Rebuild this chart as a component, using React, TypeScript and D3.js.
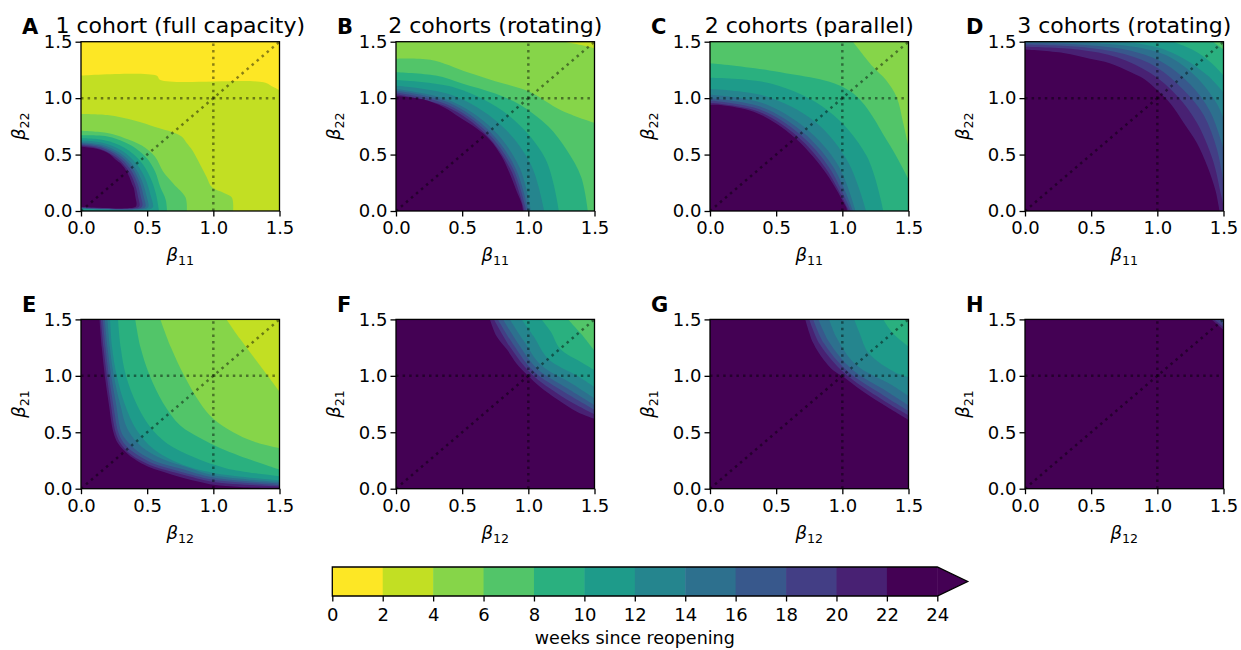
import { useEffect, useRef } from "react";
import * as d3 from "d3";

type Pt = [number, number];
type Level = [number, Pt[]];

// axis ticks and colour levels
const axisTicks = [0, 0.5, 1.0, 1.5];
const weekTicks = [0, 2, 4, 6, 8, 10, 12, 14, 16, 18, 20, 22, 24];

const panelLetters = ["A", "B", "C", "D", "E", "F", "G", "H"];
const panelTitles = [
  "1 cohort (full capacity)",
  "2 cohorts (rotating)",
  "2 cohorts (parallel)",
  "3 cohorts (rotating)",
  "", "", "", "",
];
const xSubs = ["11", "11", "11", "11", "12", "12", "12", "12"];
const ySubs = ["22", "22", "22", "22", "21", "21", "21", "21"];
// band (lower bound, weeks) in the far corner of each panel
const cornerWeeks = [0, 2, 4, 6, 2, 6, 8, 16];

// level boundaries: [weeks, boundary points (beta_x, beta_y)]
const contoursA: Level[] = [
  [2, [[0, 1.2], [0.57, 1.2], [0.6, 1.16], [1.38, 1.14], [1.45, 1.1], [1.5, 1.07]]],
  [4, [[0, 0.86], [0.2, 0.85], [0.41, 0.8], [0.56, 0.745], [0.66, 0.71], [0.76, 0.66], [0.8, 0.6], [0.84, 0.54], [0.91, 0.39], [0.95, 0.3], [0.99, 0.21], [1.08, 0.16], [1.14, 0.12], [1.15, 0]]],
  [6, [[0, 0.71], [0.2, 0.69], [0.33, 0.645], [0.46, 0.58], [0.56, 0.48], [0.62, 0.35], [0.7, 0.24], [0.79, 0.12], [0.8, 0]]],
  [8, [[0, 0.67], [0.2, 0.66], [0.33, 0.61], [0.42, 0.55], [0.5, 0.465], [0.56, 0.35], [0.6, 0.21], [0.64, 0.1], [0.65, 0]]],
  [10, [[0, 0.645], [0.169, 0.63], [0.325, 0.563], [0.446, 0.446], [0.522, 0.302], [0.566, 0.152], [0.589, 0]]],
  [12, [[0, 0.625], [0.162, 0.605], [0.309, 0.534], [0.419, 0.419], [0.488, 0.282], [0.525, 0.141], [0.544, 0.035], [0.52, 0.016], [0, 0.016]]],
  [14, [[0, 0.61], [0.157, 0.587], [0.296, 0.513], [0.399, 0.399], [0.461, 0.266], [0.495, 0.133], [0.51, 0.04], [0.49, 0.02], [0, 0.02]]],
  [16, [[0, 0.6], [0.154, 0.574], [0.288, 0.498], [0.386, 0.386], [0.443, 0.256], [0.474, 0.127], [0.488, 0.045], [0.47, 0.024], [0, 0.024]]],
  [18, [[0, 0.59], [0.151, 0.562], [0.279, 0.483], [0.372, 0.372], [0.426, 0.246], [0.453, 0.121], [0.465, 0.05], [0.45, 0.027], [0, 0.027]]],
  [20, [[0, 0.58], [0.147, 0.55], [0.271, 0.469], [0.358, 0.358], [0.408, 0.236], [0.433, 0.116], [0.443, 0.05], [0.43, 0.03], [0, 0.03]]],
  [22, [[0, 0.57], [0.1, 0.555], [0.2, 0.515], [0.263, 0.455], [0.3, 0.42], [0.35, 0.34], [0.391, 0.226], [0.4, 0.2], [0.413, 0.11], [0.42, 0.06], [0.41, 0.035], [0, 0.035]]],
];

const contoursB: Level[] = [
  [4, [[1.27, 1.5], [1.4, 1.47], [1.5, 1.44]]],
  [6, [[0, 1.35], [0.26, 1.34], [0.54, 1.23], [0.75, 1.15], [1.0, 1.06], [1.25, 0.89], [1.5, 0.78]]],
  [8, [[0, 1.23], [0.3, 1.2], [0.5, 1.13], [0.75, 1.04], [0.94, 0.94], [1.15, 0.75], [1.29, 0.54], [1.4, 0.3], [1.45, 0]]],
  [10, [[0, 1.16], [0.452, 1.09], [0.849, 0.849], [1.127, 0.467], [1.23, 0]]],
  [12, [[0, 1.11], [0.425, 1.026], [0.778, 0.778], [1.016, 0.421], [1.12, 0]]],
  [14, [[0, 1.08], [0.406, 0.979], [0.728, 0.728], [0.933, 0.387], [1.02, 0]]],
  [16, [[0, 1.065], [0.398, 0.961], [0.707, 0.707], [0.905, 0.375], [1.0, 0]]],
  [18, [[0, 1.05], [0.391, 0.942], [0.693, 0.693], [0.887, 0.367], [0.985, 0]]],
  [20, [[0, 1.035], [0.383, 0.924], [0.679, 0.679], [0.869, 0.36], [0.97, 0]]],
  [22, [[0, 1.02], [0.2, 0.99], [0.36, 0.92], [0.48, 0.83], [0.61, 0.73], [0.71, 0.63], [0.8, 0.48], [0.86, 0.33], [0.91, 0.18], [0.95, 0.065], [0.96, 0]]],
];

const contoursC: Level[] = [
  [6, [[1.08, 1.5], [1.23, 1.28], [1.33, 1.16], [1.41, 1.01], [1.46, 0.78], [1.5, 0.57]]],
  [8, [[0, 1.31], [0.5, 1.235], [1.06, 1.06], [1.35, 0.6], [1.5, 0.28]]],
  [10, [[0, 1.18], [0.467, 1.127], [0.891, 0.891], [1.183, 0.49], [1.31, 0]]],
  [12, [[0, 1.08], [0.421, 1.016], [0.792, 0.792], [1.044, 0.433], [1.18, 0]]],
  [14, [[0, 1.03], [0.396, 0.956], [0.728, 0.728], [0.97, 0.402], [1.1, 0]]],
  [16, [[0, 1.0], [0.383, 0.924], [0.7, 0.7], [0.933, 0.387], [1.08, 0]]],
  [18, [[0, 0.98], [0.373, 0.901], [0.679, 0.679], [0.906, 0.375], [1.065, 0]]],
  [20, [[0, 0.96], [0.366, 0.882], [0.661, 0.661], [0.882, 0.366], [1.05, 0]]],
  [22, [[0, 0.94], [0.08, 0.94], [0.33, 0.88], [0.5, 0.775], [0.65, 0.64], [0.78, 0.48], [0.88, 0.33], [0.96, 0.18], [1.0, 0.095], [1.03, 0.03], [1.035, 0]]],
];

const contoursD: Level[] = [
  [8, [[1.42, 1.5], [1.5, 1.43]]],
  [10, [[1.12, 1.5], [1.28, 1.42], [1.4, 1.32], [1.5, 1.2]]],
  [12, [[0.75, 1.5], [1.0, 1.45], [1.2, 1.35], [1.38, 1.2], [1.5, 1.05]]],
  [14, [[0.35, 1.5], [0.85, 1.45], [1.1, 1.36], [1.3, 1.18], [1.45, 0.95], [1.5, 0.82]]],
  [16, [[0, 1.49], [0.4, 1.475], [0.8, 1.42], [1.05, 1.31], [1.25, 1.12], [1.4, 0.88], [1.5, 0.55]]],
  [18, [[0, 1.475], [0.4, 1.455], [0.75, 1.39], [1.0, 1.27], [1.2, 1.07], [1.35, 0.85], [1.45, 0.55], [1.5, 0.25]]],
  [20, [[0, 1.455], [0.4, 1.43], [0.7, 1.36], [0.95, 1.22], [1.15, 1.02], [1.3, 0.78], [1.42, 0.45], [1.48, 0.15], [1.5, 0.05]]],
  [22, [[0, 1.43], [0.29, 1.4], [0.49, 1.35], [0.64, 1.31], [0.8, 1.23], [0.9, 1.17], [1.0, 1.07], [1.1, 0.95], [1.2, 0.78], [1.3, 0.6], [1.38, 0.39], [1.44, 0.18], [1.46, 0.065], [1.47, 0]]],
];

const contoursE: Level[] = [
  [4, [[1.1, 1.5], [1.2, 1.33], [1.36, 1.08], [1.5, 0.86]]],
  [6, [[0.6, 1.5], [0.68, 1.25], [0.78, 1.0], [0.9, 0.76], [1.0, 0.62], [1.15, 0.5], [1.3, 0.42], [1.5, 0.36]]],
  [8, [[0.41, 1.5], [0.45, 1.25], [0.52, 1.0], [0.62, 0.76], [0.75, 0.56], [0.9, 0.45], [1.05, 0.36], [1.2, 0.29], [1.5, 0.17]]],
  [10, [[0.28, 1.5], [0.3, 1.25], [0.34, 1.0], [0.42, 0.75], [0.52, 0.55], [0.65, 0.4], [0.85, 0.28], [1.1, 0.18], [1.5, 0.11]]],
  [12, [[0.22, 1.5], [0.235, 1.25], [0.27, 1.0], [0.33, 0.75], [0.42, 0.52], [0.55, 0.35], [0.75, 0.22], [1.0, 0.14], [1.5, 0.075]]],
  [14, [[0.2, 1.5], [0.218, 1.25], [0.248, 1.0], [0.295, 0.75], [0.355, 0.52], [0.46, 0.37], [0.62, 0.26], [0.8, 0.19], [1.0, 0.12], [1.5, 0.06]]],
  [16, [[0.18, 1.5], [0.2, 1.25], [0.228, 1.0], [0.265, 0.75], [0.305, 0.5], [0.35, 0.42], [0.43, 0.33], [0.58, 0.235], [0.75, 0.18], [1.0, 0.1], [1.5, 0.045]]],
  [18, [[0.165, 1.5], [0.185, 1.25], [0.21, 1.0], [0.243, 0.75], [0.282, 0.5], [0.32, 0.41], [0.4, 0.32], [0.55, 0.22], [0.68, 0.175], [0.85, 0.12], [1.0, 0.08], [1.5, 0.03]]],
  [20, [[0.15, 1.5], [0.17, 1.25], [0.195, 1.0], [0.225, 0.75], [0.262, 0.5], [0.3, 0.4], [0.38, 0.3], [0.52, 0.21], [0.64, 0.165], [0.8, 0.115], [1.0, 0.06], [1.5, 0.02]]],
  [22, [[0.14, 1.5], [0.157, 1.25], [0.18, 1.0], [0.21, 0.75], [0.245, 0.5], [0.28, 0.4], [0.36, 0.3], [0.42, 0.25], [0.5, 0.2], [0.62, 0.15], [0.76, 0.1], [0.9, 0.06], [1.0, 0.035], [1.2, 0.015], [1.5, 0.008]]],
];

const contoursF: Level[] = [
  [8, [[1.3, 1.5], [1.4, 1.37], [1.5, 1.22]]],
  [10, [[1.1, 1.5], [1.17, 1.39], [1.24, 1.24], [1.4, 1.12], [1.5, 1.05]]],
  [12, [[0.95, 1.5], [1.04, 1.35], [1.15, 1.15], [1.37, 1.0], [1.5, 0.9]]],
  [14, [[0.86, 1.5], [0.965, 1.31], [1.095, 1.095], [1.33, 0.93], [1.5, 0.8]]],
  [16, [[0.81, 1.5], [0.92, 1.29], [1.065, 1.065], [1.3, 0.885], [1.5, 0.74]]],
  [18, [[0.77, 1.5], [0.89, 1.27], [1.04, 1.04], [1.28, 0.85], [1.5, 0.7]]],
  [20, [[0.74, 1.5], [0.865, 1.25], [1.02, 1.02], [1.25, 0.82], [1.5, 0.66]]],
  [22, [[0.71, 1.5], [0.76, 1.35], [0.84, 1.23], [0.91, 1.11], [0.99, 1.01], [1.09, 0.9], [1.22, 0.79], [1.37, 0.68], [1.5, 0.62]]],
];

const contoursG: Level[] = [
  [10, [[1.31, 1.5], [1.38, 1.38], [1.5, 1.26]]],
  [12, [[1.09, 1.5], [1.13, 1.38], [1.2, 1.2], [1.4, 1.03], [1.5, 0.99]]],
  [14, [[0.9, 1.5], [0.96, 1.33], [1.1, 1.1], [1.37, 0.92], [1.5, 0.82]]],
  [16, [[0.82, 1.5], [0.9, 1.3], [1.065, 1.065], [1.34, 0.86], [1.5, 0.74]]],
  [18, [[0.78, 1.5], [0.86, 1.29], [1.04, 1.04], [1.32, 0.82], [1.5, 0.69]]],
  [20, [[0.75, 1.5], [0.83, 1.28], [1.02, 1.02], [1.3, 0.79], [1.5, 0.65]]],
  [22, [[0.72, 1.5], [0.78, 1.29], [0.86, 1.14], [0.93, 1.05], [1.01, 0.99], [1.14, 0.875], [1.29, 0.76], [1.5, 0.61]]],
];

const contoursH: Level[] = [
  [18, [[1.46, 1.5], [1.5, 1.46]]],
  [20, [[1.43, 1.5], [1.5, 1.43]]],
  [22, [[1.41, 1.5], [1.5, 1.405]]],
];

const panelContours = [contoursA, contoursB, contoursC, contoursD, contoursE, contoursF, contoursG, contoursH];

const colLeft = [81, 396, 710, 1025];
const rowTop = [41.7, 319.4];
const axW = 198.5;
const axH = 169.3;
const FONT = "DejaVu Sans";

// viridis reversed, 12 bands from 0 to 24 weeks
const bandColor = (lo: number) => d3.interpolateViridis(1 - Math.min(lo, 22) / 22);

export default function App() {
  const ref = useRef<SVGSVGElement>(null);

  useEffect(() => {
    const svg = d3.select(ref.current);
    svg.selectAll("*").remove();

    panelContours.forEach((levels, i) => {
      const left = colLeft[i % 4];
      const top = rowTop[Math.floor(i / 4)];
      const x = d3.scaleLinear().domain([0, 1.5]).range([left, left + axW]);
      const y = d3.scaleLinear().domain([0, 1.5]).range([top + axH, top]);
      const g = svg.append("g");

      const clipId = `clip-${i}`;
      g.append("clipPath").attr("id", clipId)
        .append("rect").attr("x", left).attr("y", top).attr("width", axW).attr("height", axH);
      const plot = g.append("g").attr("clip-path", `url(#${clipId})`);

      plot.append("rect").attr("x", left).attr("y", top).attr("width", axW).attr("height", axH)
        .attr("fill", bandColor(cornerWeeks[i]));

      const line = d3.line<Pt>().x((d) => x(d[0])).y((d) => y(d[1])).curve(d3.curveCatmullRom.alpha(0.5));
      levels.forEach(([lv, pts]) => {
        const close: Pt[] = [];
        if (pts[pts.length - 1][0] >= 1.5) close.push([1.5, 0]);
        close.push([0, 0]);
        if (pts[0][1] >= 1.5) close.push([0, 1.5]);
        const d = line(pts) + close.map((p) => `L${x(p[0])},${y(p[1])}`).join("") + "Z";
        plot.append("path").attr("d", d).attr("fill", bandColor(lv));
      });

      // dotted guides
      const guides: [Pt, Pt][] = [[[1, 0], [1, 1.5]], [[0, 1], [1.5, 1]], [[0, 0], [1.5, 1.5]]];
      guides.forEach(([a, b]) => {
        plot.append("line")
          .attr("x1", x(a[0])).attr("y1", y(a[1])).attr("x2", x(b[0])).attr("y2", y(b[1]))
          .attr("stroke", "rgba(0,0,0,0.45)").attr("stroke-width", 2.5)
          .attr("stroke-dasharray", "2.5 4.1");
      });

      g.append("rect").attr("x", left).attr("y", top).attr("width", axW).attr("height", axH)
        .attr("fill", "none").attr("stroke", "#000").attr("stroke-width", 1.3);

      const xa = g.append("g").attr("transform", `translate(0,${top + axH})`)
        .call(d3.axisBottom(x).tickValues(axisTicks).tickFormat(d3.format(".1f")).tickSize(5.5).tickPadding(5));
      const ya = g.append("g").attr("transform", `translate(${left},0)`)
        .call(d3.axisLeft(y).tickValues(axisTicks).tickFormat(d3.format(".1f")).tickSize(5.5).tickPadding(3));
      [xa, ya].forEach((ax) => {
        ax.select(".domain").remove();
        ax.selectAll("line").attr("stroke", "#000").attr("stroke-width", 1.3);
        ax.selectAll("text").attr("font-size", 18).attr("font-family", FONT).attr("fill", "#000");
      });

      const xl = g.append("text").attr("x", left + axW / 2).attr("y", top + axH + 50)
        .attr("text-anchor", "middle").attr("font-family", FONT).attr("font-size", 18);
      xl.append("tspan").attr("font-style", "italic").text("β");
      xl.append("tspan").attr("font-size", 12.6).attr("dy", 4).text(xSubs[i]);

      const yl = g.append("text")
        .attr("transform", `translate(${left - 56},${top + axH / 2}) rotate(-90)`)
        .attr("text-anchor", "middle").attr("font-family", FONT).attr("font-size", 18);
      yl.append("tspan").attr("font-style", "italic").text("β");
      yl.append("tspan").attr("font-size", 12.6).attr("dy", 4).text(ySubs[i]);

      if (panelTitles[i]) {
        g.append("text").attr("x", left + axW / 2).attr("y", top - 9)
          .attr("text-anchor", "middle").attr("font-family", FONT).attr("font-size", 22)
          .text(panelTitles[i]);
      }
      g.append("text").attr("x", left - 59).attr("y", top - 7.5)
        .attr("font-family", FONT).attr("font-size", 21).attr("font-weight", "bold")
        .text(panelLetters[i]);
    });

    // colour bar
    const cx = d3.scaleLinear().domain([0, 24]).range([332.3, 937.3]);
    const cbTop = 567;
    const cbBot = 596;
    const cb = svg.append("g");
    weekTicks.slice(0, -1).forEach((w) => {
      cb.append("rect").attr("x", cx(w)).attr("y", cbTop).attr("width", cx(w + 2) - cx(w) + 0.5)
        .attr("height", cbBot - cbTop).attr("fill", bandColor(w));
    });
    const tip = cx(24) + 30.4;
    cb.append("path")
      .attr("d", `M${cx(24)},${cbTop}L${tip},${(cbTop + cbBot) / 2}L${cx(24)},${cbBot}Z`)
      .attr("fill", bandColor(24));
    cb.append("path")
      .attr("d", `M${cx(0)},${cbTop}H${cx(24)}L${tip},${(cbTop + cbBot) / 2}L${cx(24)},${cbBot}H${cx(0)}Z`)
      .attr("fill", "none").attr("stroke", "#000").attr("stroke-width", 1.3);
    const ca = cb.append("g").attr("transform", `translate(0,${cbBot})`)
      .call(d3.axisBottom(cx).tickValues(weekTicks).tickFormat(d3.format("d")).tickSize(5.5).tickPadding(7));
    ca.select(".domain").remove();
    ca.selectAll("line").attr("stroke", "#000").attr("stroke-width", 1.3);
    ca.selectAll("text").attr("font-size", 18).attr("font-family", FONT).attr("fill", "#000");
    cb.append("text").attr("x", (cx(0) + cx(24)) / 2).attr("y", 644)
      .attr("text-anchor", "middle").attr("font-family", FONT).attr("font-size", 17.5)
      .text("weeks since reopening");
  }, []);

  return (
    <svg
      ref={ref}
      width={1241}
      height={650}
      style={{ position: "absolute", left: 0, top: 0, background: "#fff" }}
    />
  );
}
